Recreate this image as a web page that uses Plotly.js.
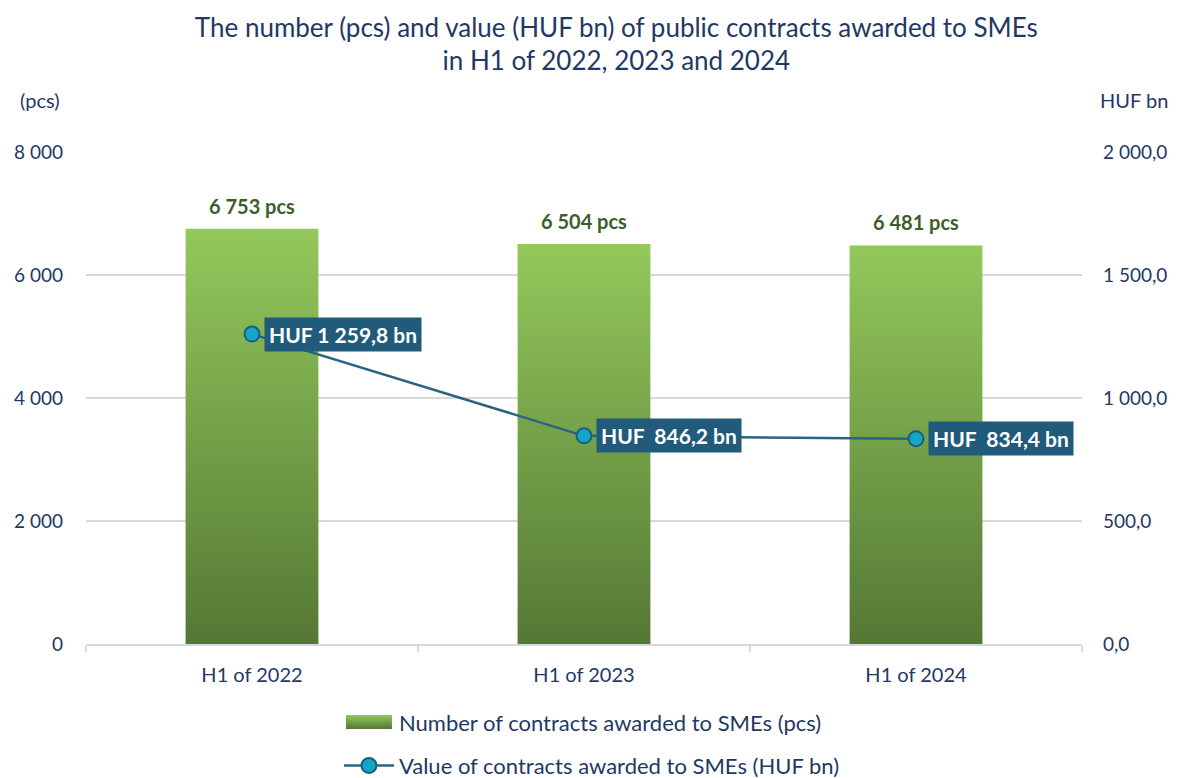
<!DOCTYPE html>
<html>
<head>
<meta charset="utf-8">
<script src="https://cdn.plot.ly/plotly-3.0.1.min.js"></script>
<style>
html,body{margin:0;padding:0;background:#fff;}
#chart{width:1183px;height:778px;}
</style>
</head>
<body>
<div id="chart"></div>
<script>
// ---- data ----
const categories = ["H1 of 2022", "H1 of 2023", "H1 of 2024"];
const contractCounts = [6753, 6504, 6481];
const contractValues = [1259.8, 846.2, 834.4];
const countLabels = ["6 753 pcs", "6 504 pcs", "6 481 pcs"];
const valueLabels = ["HUF 1 259,8 bn", "HUF  846,2 bn", "HUF  834,4 bn"];
const seriesNames = ["Number of contracts awarded to SMEs (pcs)", "Value of contracts awarded to SMEs (HUF bn)"];

const navy = "#1F3864";
const font = "Lato, 'Open Sans', sans-serif";

const barTrace = {
  type: "bar",
  name: seriesNames[0],
  x: categories,
  y: contractCounts,
  width: 0.4,
  marker: {color: "#77A648"},
  legendgroup: "a"
};
const lineTrace = {
  type: "scatter",
  mode: "lines+markers",
  name: seriesNames[1],
  x: categories,
  y: contractValues,
  yaxis: "y2",
  line: {color: "#2A6482", width: 2.5},
  marker: {size: 15, color: "#14A6C7", line: {color: "#1D5E7A", width: 2}},
  legendgroup: "b"
};

const annotations = [];
categories.forEach((c, i) => {
  annotations.push({
    x: c, y: contractCounts[i], xref: "x", yref: "y",
    text: "<b>" + countLabels[i] + "</b>",
    showarrow: false, yanchor: "bottom", yshift: 9,
    font: {family: font, size: 20, color: "#3D5E2B"}
  });
  annotations.push({
    x: c, y: contractValues[i], xref: "x", yref: "y2",
    text: "<b>" + valueLabels[i].replace(/  /g, " &nbsp;") + "</b>",
    showarrow: false, xanchor: "left", yanchor: "middle", xshift: 12,
    bgcolor: "#215B7B", borderpad: 4,
    font: {family: font, size: 21, color: "#FFFFFF"}
  });
});
annotations.push({
  xref: "paper", yref: "paper", x: -0.046, y: 1.106, xanchor: "center", yanchor: "middle",
  text: "(pcs)", showarrow: false, font: {family: font, size: 20, color: navy}
});
annotations.push({
  xref: "paper", yref: "paper", x: 1.052, y: 1.106, xanchor: "center", yanchor: "middle",
  text: "HUF bn", showarrow: false, font: {family: font, size: 20, color: navy}
});

const layout = {
  width: 1183, height: 778,
  paper_bgcolor: "#fff", plot_bgcolor: "#fff",
  separators: ", ",
  margin: {l: 86, r: 101, t: 152, b: 134},
  title: {
    text: "The number (pcs) and value (HUF bn) of public contracts awarded to SMEs<br>in H1 of 2022, 2023 and 2024",
    x: 0.521, xref: "container", xanchor: "center",
    y: 0.953, yref: "container", yanchor: "middle",
    font: {family: font, size: 26, color: navy}
  },
  font: {family: font, color: navy},
  xaxis: {
    type: "category",
    showgrid: false,
    showline: true, linecolor: "#D9D9D9", linewidth: 1.5,
    ticks: "outside", tickson: "boundaries", ticklen: 6, tickcolor: "#D9D9D9", tickwidth: 1.5,
    ticklabelstandoff: 12,
    tickfont: {family: font, size: 20, color: navy},
    tickangle: 0,
    fixedrange: true
  },
  yaxis: {
    range: [0, 8000], dtick: 2000, tickformat: ",d",
    showgrid: true, gridcolor: "#D9D9D9", gridwidth: 1.5,
    zeroline: false, showline: false,
    ticks: "", ticklabelstandoff: 22,
    tickfont: {family: font, size: 19, color: navy}
  },
  yaxis2: {
    overlaying: "y", side: "right",
    range: [0, 2000], dtick: 500, tickformat: ",.1f",
    showgrid: false, zeroline: false, showline: false,
    ticks: "", ticklabelstandoff: 20,
    tickfont: {family: font, size: 19, color: navy}
  },
  showlegend: true,
  legend: {
    orientation: "v", x: 0.508, xanchor: "center",
    y: 0, yanchor: "bottom", bgcolor: "rgba(0,0,0,0)",
    traceorder: "grouped", tracegroupgap: 12, itemwidth: 50,
    font: {family: font, size: 22, color: navy}
  },
  annotations: annotations
};

Plotly.newPlot("chart", [barTrace, lineTrace], layout, {displayModeBar: false, staticPlot: true}).then(gd => {
  const svg = gd.querySelector("svg.main-svg");
  const ns = "http://www.w3.org/2000/svg";
  let defs = svg.querySelector("defs");
  if (!defs) { defs = document.createElementNS(ns, "defs"); svg.insertBefore(defs, svg.firstChild); }
  const grad = document.createElementNS(ns, "linearGradient");
  grad.setAttribute("id", "barGrad");
  grad.setAttribute("x1", "0"); grad.setAttribute("y1", "0");
  grad.setAttribute("x2", "0"); grad.setAttribute("y2", "1");
  [["0%", "#93C85B"], ["100%", "#557835"]].forEach(([o, c]) => {
    const s = document.createElementNS(ns, "stop");
    s.setAttribute("offset", o); s.setAttribute("stop-color", c);
    grad.appendChild(s);
  });
  defs.appendChild(grad);
  gd.querySelectorAll(".trace.bars .point path").forEach(p => { p.style.fill = "url(#barGrad)"; });
  gd.querySelectorAll(".legend .legendpoints path").forEach(p => {
    const f = (p.style.fill || "").replace(/\s/g, "");
    if (f.indexOf("119,166,72") >= 0 || f.toLowerCase().indexOf("77a648") >= 0) {
      p.setAttribute("d", "M-23,-7H23V7H-23Z");
      p.style.fill = "url(#barGrad)";
      p.style.stroke = "none";
    }
  });
  // move the legend below the x-axis labels (kept inside the plot during layout so it does not shrink the plot area)
  const leg = gd.querySelector("g.legend");
  const firstText = leg && leg.querySelector(".legendtext");
  if (leg && firstText) {
    const r = firstText.getBoundingClientRect();
    const gr = gd.getBoundingClientRect();
    const dy = 722 - ((r.top + r.bottom) / 2 - gr.top);
    const m = /translate\(\s*([-\d.]+)[ ,]+([-\d.]+)\s*\)/.exec(leg.getAttribute("transform") || "");
    if (m) leg.setAttribute("transform", "translate(" + m[1] + "," + (parseFloat(m[2]) + dy) + ")");
  }
});
</script>
</body>
</html>
